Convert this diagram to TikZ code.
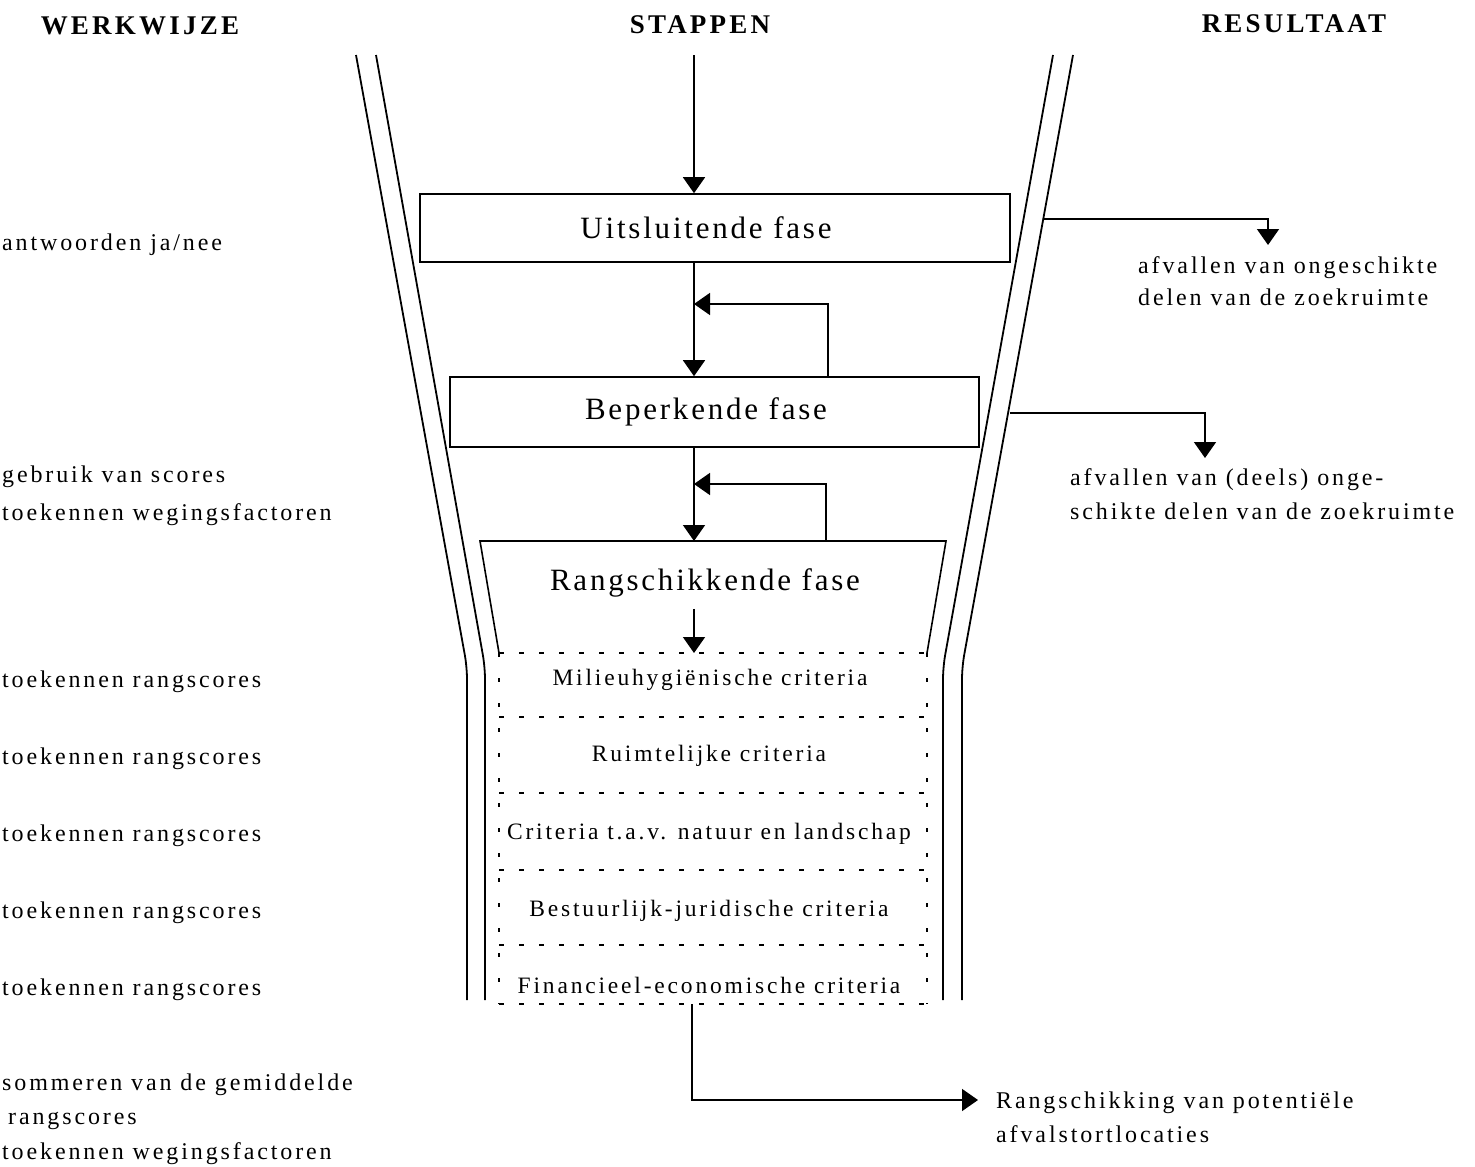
\documentclass[tikz,border=0pt]{standalone}
\usepackage{fontspec}
\setmainfont{Liberation Serif}
\newfontfamily\spcfont[LetterSpace=12]{Liberation Serif}
\newfontfamily\spcphase[LetterSpace=9]{Liberation Serif}
\usetikzlibrary{arrows.meta}
\begin{document}
\begin{tikzpicture}[x=1pt,y=-1pt,
  ln/.style={line width=1.6pt},
  arr/.style={line width=1.6pt,-{Triangle[width=22pt,length=16pt]}},
  funnel/.style={line width=1.8pt,rounded corners=12pt},
  lbl/.style={anchor=base west,inner sep=0pt,font=\spcfont\fontsize{24}{28}\selectfont},
  head/.style={anchor=base,inner sep=0pt,font=\spcfont\bfseries\fontsize{27}{30}\selectfont},
  phasebox/.style={draw,line width=1.6pt,inner sep=0pt,font=\spcphase\fontsize{31}{34}\selectfont},
  crit/.style={anchor=base,inner sep=0pt,font=\spcfont\fontsize{23.5}{26}\selectfont},
  hdash/.style={line width=1.8pt,dash pattern=on 5pt off 15pt},
  vdot/.style={line width=1.8pt,dash pattern=on 4pt off 21pt}]
\useasboundingbox (0,0) rectangle (1475,1167);
\clip (0,0) rectangle (1475,1167);

% headers
\node[head] (h1) at (140,34) {WERKWIJZE};
\node[head] (h2) at (700,33) {STAPPEN};
\node[head] (h3) at (1294,32) {RESULTAAT};

% funnel
\draw[funnel] (356,55) -- (467,667) -- (467,1000);
\draw[funnel] (376,55) -- (485,667) -- (485,1000);
\draw[funnel] (1053,55) -- (943,667) -- (943,1000);
\draw[funnel] (1073,55) -- (962,667) -- (962,1000);

% phase boxes
\node[phasebox,minimum width=590pt,minimum height=68pt] (U) at (715,228) {\hspace*{-18pt}Uitsluitende fase};
\node[phasebox,minimum width=529pt,minimum height=70pt] (B) at (714.5,412) {\hspace*{-17pt}Beperkende fase};

% trapezoid of ranking phase
\coordinate (tl) at (480,541);
\coordinate (tr) at (946,541);
\coordinate (dl) at (499,653);
\coordinate (dr) at (927,653);
\draw[ln,line join=miter] (dl) -- (tl) -- (tr) -- (dr);
\node[anchor=base,inner sep=0pt,font=\spcphase\fontsize{31}{34}\selectfont] (R) at (705,590) {Rangschikkende fase};

% dotted criteria box
\coordinate (bl) at (499,1004);
\coordinate (br) at (927,1004);
\draw[vdot] (dl) -- (bl);
\draw[vdot] (dr) -- (br);
\foreach \yy in {653,717,793,870,945,1004}
  \draw[hdash] (499,\yy) -- (927,\yy);
\node[crit] (c1) at (710,685) {Milieuhygiënische criteria};
\node[crit] (c2) at (709,761) {Ruimtelijke criteria};
\node[crit] (c3) at (709,839) {Criteria t.a.v. natuur en landschap};
\node[crit] (c4) at (709,916) {Bestuurlijk-juridische criteria};
\node[crit] (c5) at (709,993) {Financieel-economische criteria};

% main flow arrows
\coordinate (in) at (694,55);
\coordinate (rtop) at (694,541);
\coordinate (dtop) at (694,653);
\draw[arr] (in) -- (in |- U.north);
\draw[arr] (U.south -| in) -- (B.north -| in);
\draw[arr] (B.south -| in) -- (rtop);
\draw[arr] ([yshift=-12pt]R.south -| in) -- (dtop);

% feedback arrows
\coordinate (fbA) at (828,304);
\draw[arr] (fbA |- B.north) -- (fbA) -- (fbA -| in);
\coordinate (fbB) at (826,484);
\draw[arr] (fbB |- rtop) -- (fbB) -- (fbB -| in);

% result arrows
\coordinate (r1s) at (1043,219);
\coordinate (r1e) at (1268,245);
\draw[arr] (r1s) -| (r1e);
\coordinate (r2s) at (1010,413);
\coordinate (r2e) at (1205,458);
\draw[arr] (r2s) -| (r2e);
\coordinate (dbot) at (692,1004);
\coordinate (r3e) at (978,1100);
\draw[arr] (dbot) |- (r3e);

% results
\node[lbl] (t1) at (1138,273) {afvallen van ongeschikte};
\node[lbl] (t2) at (1138,305) {delen van de zoekruimte};
\node[lbl] (t3) at (1070,485) {afvallen van (deels) onge-};
\node[lbl] (t4) at (1070,519) {schikte delen van de zoekruimte};
\node[lbl] (t5) at (996,1108) {Rangschikking van potentiële};
\node[lbl] (t6) at (996,1142) {afvalstortlocaties};

% working methods
\node[lbl] (w1) at (2,250) {antwoorden ja/nee};
\node[lbl] (w2) at (2,482) {gebruik van scores};
\node[lbl] (w3) at (2,520) {toekennen wegingsfactoren};
\node[lbl] (w4) at (2,687) {toekennen rangscores};
\node[lbl] (w5) at (2,764) {toekennen rangscores};
\node[lbl] (w6) at (2,841) {toekennen rangscores};
\node[lbl] (w7) at (2,918) {toekennen rangscores};
\node[lbl] (w8) at (2,995) {toekennen rangscores};
\node[lbl] (w9) at (2,1090) {sommeren van de gemiddelde};
\node[lbl] (w10) at (8,1124) {rangscores};
\node[lbl] (w11) at (2,1159) {toekennen wegingsfactoren};
\end{tikzpicture}
\end{document}
